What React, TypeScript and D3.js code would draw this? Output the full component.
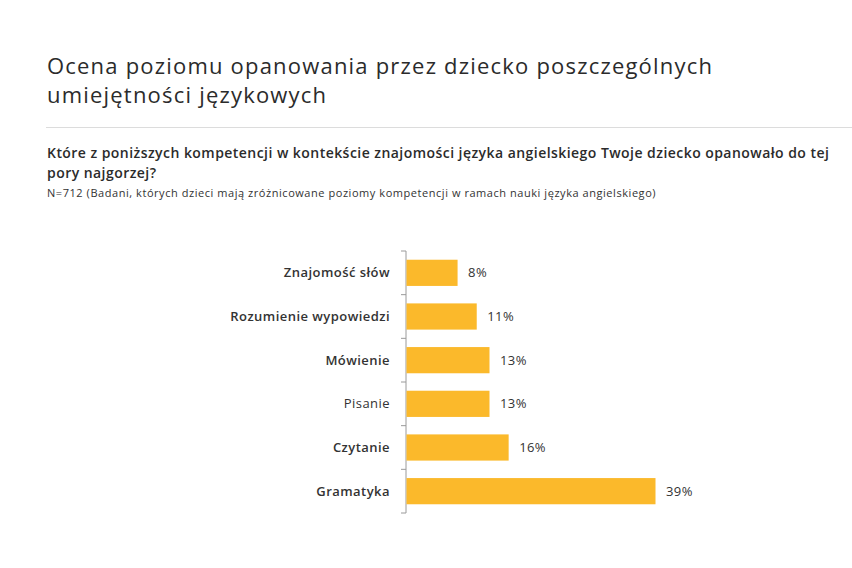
import React, { useEffect, useRef } from 'react';
import * as d3 from 'd3';

const categories = [
  'Znajomość słów',
  'Rozumienie wypowiedzi',
  'Mówienie',
  'Pisanie',
  'Czytanie',
  'Gramatyka',
];
const values = [8, 11, 13, 13, 16, 39];
const boldLabels = [true, true, true, false, true, true];

const titleLines = ['Ocena poziomu opanowania przez dziecko poszczególnych', 'umiejętności językowych'];
const questionLines = [
  'Które z poniższych kompetencji w kontekście znajomości języka angielskiego Twoje dziecko opanowało do tej',
  'pory najgorzej?',
];
const baseNote = 'N=712 (Badani, których dzieci mają zróżnicowane poziomy kompetencji w ramach nauki języka angielskiego)';

const FONT = '"Open Sans", "DejaVu Sans", sans-serif';

const App = () => {
  const chartRef = useRef<SVGGElement>(null);
  const width = 852;
  const height = 568;
  const margin = { top: 251, left: 406 };
  const h = 262;

  useEffect(() => {
    const g = d3.select(chartRef.current);
    g.selectAll('*').remove();

    const x = d3.scaleLinear().domain([0, 39]).range([0, 249]);
    const y = d3.scaleBand<string>().domain(categories).range([0, h]).paddingInner(0.4).paddingOuter(0.2);

    // y axis with outward ticks at band boundaries
    g.append('line')
      .attr('x1', 0)
      .attr('x2', 0)
      .attr('y1', 0)
      .attr('y2', h)
      .attr('stroke', '#9a9a9a')
      .attr('stroke-width', 1);

    const step = y.step();
    g.selectAll('.tick_line')
      .data(d3.range(categories.length + 1))
      .join('line')
      .attr('class', 'tick_line')
      .attr('x1', -5)
      .attr('x2', 0)
      .attr('y1', (i) => i * step)
      .attr('y2', (i) => i * step)
      .attr('stroke', '#9a9a9a');

    g.selectAll('rect')
      .data(values)
      .join('rect')
      .attr('x', 0.5)
      .attr('y', (d, i) => y(categories[i])!)
      .attr('width', (d) => x(d))
      .attr('height', y.bandwidth())
      .attr('fill', '#fbb92b');

    g.selectAll('.cat_label')
      .data(categories)
      .join('text')
      .attr('class', 'cat_label')
      .attr('x', -16)
      .attr('y', (d) => y(d)! + y.bandwidth() / 2)
      .attr('dy', '0.35em')
      .attr('text-anchor', 'end')
      .style('font-family', FONT)
      .style('font-size', '13px')
      .style('letter-spacing', '0.45px')
      .style('font-weight', (d, i) => (boldLabels[i] ? 600 : 400))
      .attr('fill', '#333')
      .text((d) => d);

    g.selectAll('.val_label')
      .data(values)
      .join('text')
      .attr('class', 'val_label')
      .attr('x', (d) => x(d) + 11)
      .attr('y', (d, i) => y(categories[i])! + y.bandwidth() / 2)
      .attr('dy', '0.35em')
      .style('font-family', FONT)
      .style('font-size', '13px')
      .style('letter-spacing', '0.4px')
      .attr('fill', '#333')
      .text((d) => `${d}%`);
  }, []);

  return (
    <svg width={width} height={height} style={{ position: 'absolute', left: 0, top: 0, background: '#fff' }}>
      <rect width={width} height={height} fill="#fff" />
      {titleLines.map((t, i) => (
        <text key={t} x={47} y={74 + i * 29} fontFamily={FONT} fontSize={22} letterSpacing={1.2} fill="#2b2b2b">
          {t}
        </text>
      ))}
      <line x1={46} x2={852} y1={127.5} y2={127.5} stroke="#dcdcdc" />
      {questionLines.map((t, i) => (
        <text key={t} x={47} y={158 + i * 19.5} fontFamily={FONT} fontSize={14} fontWeight={600} letterSpacing={0.45} fill="#2b2b2b">
          {t}
        </text>
      ))}
      <text x={47} y={197} fontFamily={FONT} fontSize={11} letterSpacing={0.55} fill="#333">
        {baseNote}
      </text>
      <g ref={chartRef} transform={`translate(${margin.left}, ${margin.top})`} />
    </svg>
  );
};

export default App;
